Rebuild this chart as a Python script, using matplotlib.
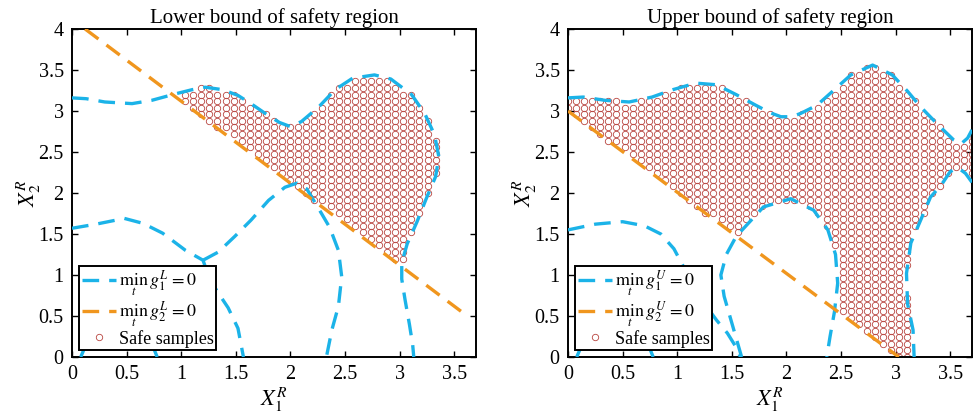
import numpy as np
import matplotlib
matplotlib.use('Agg')
import matplotlib.pyplot as plt
from matplotlib.path import Path
from matplotlib.ticker import FixedLocator, FuncFormatter

plt.rcParams['font.family'] = ['Liberation Serif', 'DejaVu Serif']
plt.rcParams['mathtext.fontset'] = 'stix'

# ---------------- data ----------------
# sampling grid of the safe samples
grid_x = np.linspace(0.0, 3.7, 51)
grid_y = np.linspace(0.0, 4.0, 51)

# ---- Lower bound panel ----
L_g1_top_x = [0.0, 0.13, 0.3, 0.55, 0.73, 0.95, 1.1, 1.22, 1.38, 1.52, 1.65, 1.77, 1.9, 2.0, 2.1, 2.26,
              2.41, 2.57, 2.77, 2.92, 3.11, 3.23, 3.32, 3.36, 3.33, 3.25, 3.16, 3.07, 3.02, 3.02, 3.05,
              3.09, 3.12, 3.13]
L_g1_top_y = [3.16, 3.15, 3.11, 3.09, 3.13, 3.21, 3.26, 3.29, 3.26, 3.19, 3.08, 2.97, 2.86, 2.81, 2.87, 3.05,
              3.26, 3.40, 3.44, 3.39, 3.2, 2.97, 2.71, 2.44, 2.2, 1.95, 1.65, 1.38, 1.15, 0.95, 0.7,
              0.4, 0.15, 0.0]
L_g1_left_x = [0.0, 0.22, 0.48, 0.65, 0.83, 1.04, 1.2, 1.26, 1.34, 1.43, 1.52, 1.57]
L_g1_left_y = [1.57, 1.62, 1.69, 1.63, 1.51, 1.30, 1.18, 0.95, 0.78, 0.6, 0.35, 0.0]
L_g1_mid_x = [1.2, 1.34, 1.49, 1.64, 1.8, 1.95, 2.06, 2.15, 2.25, 2.36, 2.44, 2.47, 2.44, 2.38, 2.33]
L_g1_mid_y = [1.18, 1.28, 1.47, 1.67, 1.91, 2.07, 2.12, 2.05, 1.83, 1.58, 1.3, 0.98, 0.62, 0.33, 0.0]
L_g1_arc_x = [0.08, 0.15, 0.3, 0.45, 0.6, 0.72, 0.78]
L_g1_arc_y = [0.0, 0.22, 0.42, 0.48, 0.4, 0.2, 0.0]
L_g2_x = [0.12, 3.63]
L_g2_y = [4.0, 0.49]
L_safe_x = [0.95, 3.02, 3.07, 3.16, 3.25, 3.33, 3.36, 3.32, 3.23, 3.11, 2.92, 2.77, 2.57, 2.41, 2.26,
            2.1, 2.0, 1.9, 1.77, 1.65, 1.52, 1.38, 1.22, 1.1, 0.95]
L_safe_y = [3.18, 1.12, 1.38, 1.65, 1.95, 2.2, 2.44, 2.71, 2.97, 3.2, 3.39, 3.44, 3.40, 3.26, 3.05,
            2.87, 2.81, 2.86, 2.97, 3.08, 3.19, 3.26, 3.29, 3.26, 3.18]

# ---- Upper bound panel ----
U_g1_top_x = [0.0, 0.14, 0.34, 0.56, 0.77, 0.96, 1.17, 1.36, 1.54, 1.72, 1.85, 1.95, 2.05, 2.13, 2.28,
              2.44, 2.59, 2.79, 2.97, 3.11, 3.23, 3.39, 3.53, 3.6, 3.66, 3.7]
U_g1_top_y = [3.16, 3.17, 3.13, 3.11, 3.17, 3.26, 3.34, 3.32, 3.2, 3.07, 2.98, 2.93, 2.93, 2.97, 3.07,
              3.26, 3.44, 3.56, 3.44, 3.24, 3.05, 2.83, 2.65, 2.6, 2.67, 2.77]
U_g1_right_x = [3.7, 3.64, 3.57, 3.5, 3.42, 3.32, 3.23, 3.14, 3.10, 3.11, 3.16, 3.17]
U_g1_right_y = [2.13, 2.24, 2.31, 2.26, 2.1, 1.95, 1.67, 1.39, 1.02, 0.65, 0.33, 0.0]
U_g1_left_x = [0.0, 0.25, 0.5, 0.7, 0.85, 0.97, 1.05, 1.15, 1.25, 1.36, 1.46, 1.53, 1.58]
U_g1_left_y = [1.55, 1.62, 1.65, 1.6, 1.5, 1.32, 1.12, 0.88, 0.65, 0.45, 0.29, 0.14, 0.0]
U_g1_mid_x = [1.59, 1.51, 1.43, 1.40, 1.45, 1.54, 1.79, 2.04, 2.25, 2.38, 2.45, 2.47, 2.44, 2.40, 2.37]
U_g1_mid_y = [0.0, 0.37, 0.74, 1.0, 1.25, 1.47, 1.83, 1.93, 1.79, 1.55, 1.25, 0.9, 0.55, 0.25, 0.0]
U_g1_arc_x = [0.08, 0.15, 0.3, 0.45, 0.6, 0.72, 0.78]
U_g1_arc_y = [0.0, 0.22, 0.42, 0.48, 0.4, 0.2, 0.0]
U_g2_x = [0.0, 3.03]
U_g2_y = [3.0, 0.0]
U_safe_x = [-0.05, 0.0, 0.14, 0.34, 0.56, 0.77, 0.96, 1.17, 1.36, 1.54, 1.72, 1.85, 1.95, 2.05, 2.13, 2.28,
            2.44, 2.59, 2.79, 2.97, 3.11, 3.23, 3.39, 3.53, 3.6, 3.66, 3.75,
            3.75, 3.64, 3.57, 3.5, 3.42, 3.32, 3.23, 3.14, 3.10, 3.11, 3.16, 3.17, 3.17, 3.06,
            3.03, 2.45, 2.47, 2.45, 2.38, 2.25, 2.04, 1.79, 1.53, 0.0, -0.05]
U_safe_y = [3.16, 3.16, 3.17, 3.13, 3.11, 3.17, 3.26, 3.34, 3.32, 3.2, 3.07, 2.98, 2.93, 2.93, 2.97, 3.07,
            3.26, 3.44, 3.56, 3.44, 3.24, 3.05, 2.83, 2.65, 2.6, 2.67, 2.8,
            2.13, 2.24, 2.31, 2.26, 2.1, 1.95, 1.67, 1.39, 1.02, 0.65, 0.33, 0.0, -0.03, -0.03,
            0.0, 0.575, 0.9, 1.25, 1.55, 1.79, 1.93, 1.83, 1.485, 3.0, 3.0]

titles = ['Lower bound of safety region', 'Upper bound of safety region']
leg_g1 = [r'$\min_t\, g_1^L = 0$', r'$\min_t\, g_1^U = 0$']
leg_g2 = [r'$\min_t\, g_2^L = 0$', r'$\min_t\, g_2^U = 0$']
leg_safe = 'Safe samples'
xticks = [0, 0.5, 1, 1.5, 2, 2.5, 3, 3.5]
yticks = [0, 0.5, 1, 1.5, 2, 2.5, 3, 3.5, 4]

# ---------------- styles ----------------
BLUE = '#1BB3E8'
ORANGE = '#F0961E'
RED = '#B8443F'
LW = 2.4
DASH = (0, (5, 3))

fig = plt.figure(figsize=(9.76, 4.2), dpi=100)
axL = fig.add_axes([72/976, 1-357/420, 404/976, 328/420])
axR = fig.add_axes([568/976, 1-357/420, 404/976, 328/420])

GX, GY = np.meshgrid(grid_x, grid_y)
pts = np.column_stack([GX.ravel(), GY.ravel()])

panels = [
    (axL, [(L_g1_top_x, L_g1_top_y), (L_g1_left_x, L_g1_left_y), (L_g1_mid_x, L_g1_mid_y), (L_g1_arc_x, L_g1_arc_y)],
     (L_g2_x, L_g2_y), (L_safe_x, L_safe_y)),
    (axR, [(U_g1_top_x, U_g1_top_y), (U_g1_right_x, U_g1_right_y), (U_g1_left_x, U_g1_left_y),
           (U_g1_mid_x, U_g1_mid_y), (U_g1_arc_x, U_g1_arc_y)],
     (U_g2_x, U_g2_y), (U_safe_x, U_safe_y)),
]

for i, (ax, g1_curves, g2, safe) in enumerate(panels):
    poly = Path(np.column_stack(safe))
    inside = poly.contains_points(pts)
    sp = pts[inside]
    hs, = ax.plot(sp[:, 0], sp[:, 1], linestyle='none', marker='o', markersize=4.6,
                  markerfacecolor='none', markeredgecolor=RED, markeredgewidth=0.6, zorder=2)
    h1 = None
    for cx, cy in g1_curves:
        h, = ax.plot(cx, cy, color=BLUE, lw=LW, linestyle=DASH, zorder=3)
        if h1 is None:
            h1 = h
    h2, = ax.plot(g2[0], g2[1], color=ORANGE, lw=LW, linestyle=DASH, zorder=3)

    ax.set_xlim(0, 3.7)
    ax.set_ylim(0, 4)
    ax.xaxis.set_major_locator(FixedLocator(xticks))
    ax.yaxis.set_major_locator(FixedLocator(yticks))
    fmt = FuncFormatter(lambda v, p: f'{v:g}')
    ax.xaxis.set_major_formatter(fmt)
    ax.yaxis.set_major_formatter(fmt)
    ax.tick_params(direction='in', top=True, right=True, length=4, width=1.0,
                   labelsize=14.5, pad=6)
    for s in ax.spines.values():
        s.set_linewidth(1.4)
    ax.set_title(titles[i], fontsize=15, pad=4)
    ax.set_xlabel(r'$X_1^R$', fontsize=16, labelpad=1)
    ax.set_ylabel(r'$X_2^R$', fontsize=16, labelpad=-3)

    leg = ax.legend([h1, h2, hs], [leg_g1[i], leg_g2[i], leg_safe], loc='lower left',
                    bbox_to_anchor=(0.017, 0.02), borderaxespad=0, fontsize=13,
                    handlelength=1.9, handletextpad=0.15, labelspacing=0.0,
                    borderpad=0.15, fancybox=False, framealpha=1, edgecolor='black')
    leg.get_frame().set_linewidth(1.4)
    leg.set_zorder(5)

fig.savefig('out.png', dpi=100)
